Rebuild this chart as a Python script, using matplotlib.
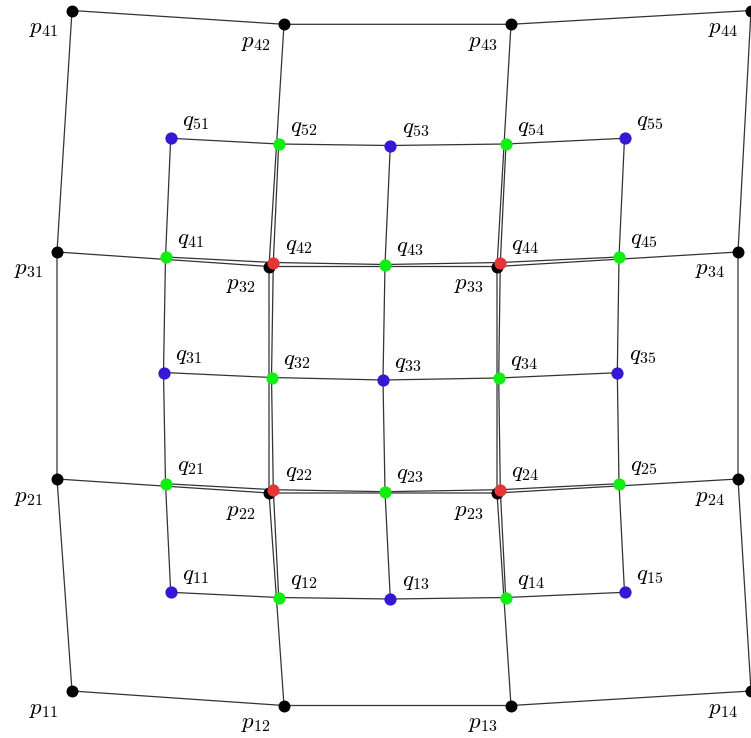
import numpy as np
import matplotlib
matplotlib.use("Agg")
import matplotlib.pyplot as plt

plt.rcParams['mathtext.fontset'] = 'cm'

# control net P (4x4), rows i=1..4 from bottom, cols j=1..4
p_x = [
    [72, 284, 511, 751],
    [57, 269, 497, 738],
    [57, 269, 497, 738],
    [72, 284, 511, 751],
]
p_y = [
    [691, 705.5, 705.5, 691],
    [479, 493, 493, 479],
    [252, 266.5, 266.5, 252],
    [10.5, 24.3, 24.3, 10.5],
]

# refined net Q (5x5)
q_x = [
    [170.7, 278.7, 390.3, 505.7, 624.5],
    [165.5, 273.3, 385, 500.3, 619],
    [163.5, 271.5, 383, 498.7, 617.3],
    [165.5, 273.3, 385, 500.3, 619],
    [170.7, 278.7, 390.3, 506, 624.5],
]
q_y = [
    [592.3, 597.5, 599, 597.5, 592.3],
    [483.7, 489.7, 491.7, 489.7, 483.7],
    [372.5, 377.5, 380, 378, 372.7],
    [257, 262.5, 264.5, 262.5, 257],
    [138.3, 144, 145.5, 144, 138.3],
]

blue = '#3318d4'
green = '#11ee11'
red = '#e53535'
line_col = '#333333'

fig = plt.figure(figsize=(7.51, 7.38), dpi=100)
ax = fig.add_axes([0, 0, 1, 1])
ax.set_xlim(0, 751)
ax.set_ylim(738, 0)
ax.axis('off')

px = np.array(p_x)
py = np.array(p_y)
qx = np.array(q_x)
qy = np.array(q_y)

# grid lines
for k in range(4):
    ax.plot(px[k], py[k], color=line_col, lw=0.9, zorder=1)
    ax.plot(px[:, k], py[:, k], color=line_col, lw=0.9, zorder=1)
for k in range(5):
    ax.plot(qx[k], qy[k], color=line_col, lw=0.9, zorder=1)
    ax.plot(qx[:, k], qy[:, k], color=line_col, lw=0.9, zorder=1)

# P points and labels
for i in range(4):
    for j in range(4):
        ax.plot(px[i, j], py[i, j], 'o', color='black', ms=8.6, mec='none', zorder=3)
        ax.annotate(r'$p_{%d%d}$' % (i + 1, j + 1), (px[i, j], py[i, j]),
                    xytext=(-28, -17), textcoords='offset pixels',
                    ha='center', va='center', fontsize=16.5)

# Q points and labels
for i in range(5):
    for j in range(5):
        if i % 2 == 0 and j % 2 == 0:
            c = blue
        elif i % 2 == 1 and j % 2 == 1:
            c = red
        else:
            c = green
        ax.plot(qx[i, j], qy[i, j], 'o', color=c, ms=8.8, mec='none', zorder=4)
        ax.annotate(r'$q_{%d%d}$' % (i + 1, j + 1), (qx[i, j], qy[i, j]),
                    xytext=(25, 18), textcoords='offset pixels',
                    ha='center', va='center', fontsize=16.5)

fig.savefig('out.png', dpi=100)
